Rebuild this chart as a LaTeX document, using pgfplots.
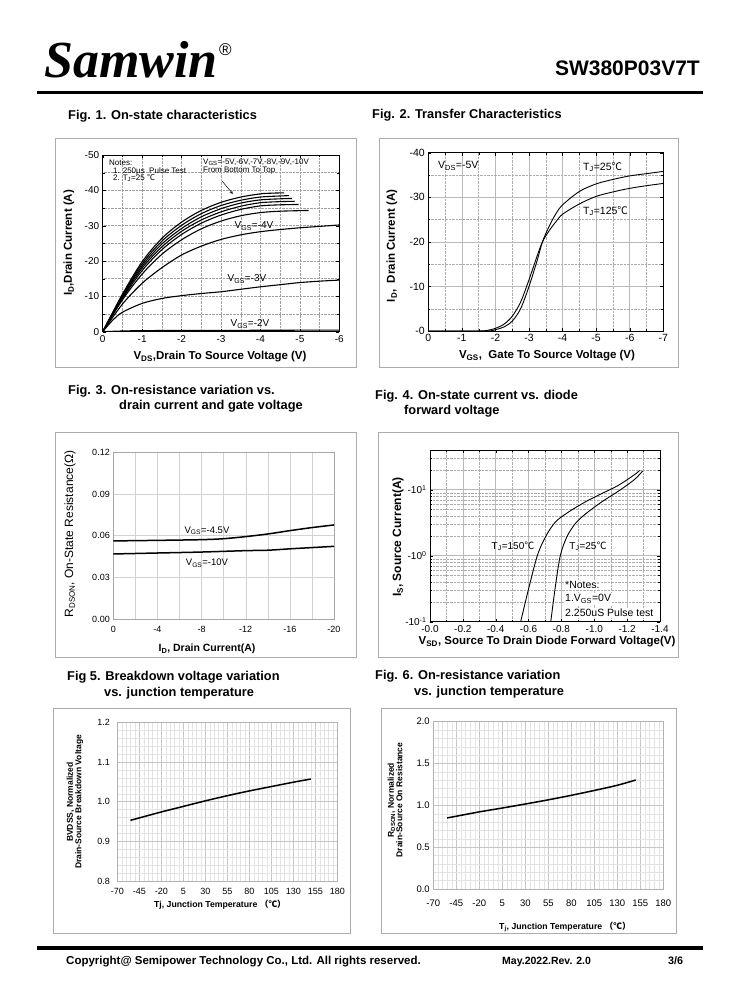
\documentclass[border=0pt]{standalone}
\usepackage{pgfplots}
\pgfplotsset{compat=1.18}
\usepackage{fontspec}
\setmainfont{Liberation Sans}
\newfontfamily\timesf{Liberation Serif}
\newfontfamily\cjk{Noto Sans CJK SC}
\newcommand{\dc}{{\cjk ℃}}
\newcommand{\fs}[1]{\fontsize{#1}{#1}\selectfont}
\tikzset{ca/.style={black,line width=1.1pt,smooth,mark=none},
 cb/.style={black,line width=0.9pt,smooth,mark=none},
 cc/.style={black,line width=1.5pt,smooth,mark=none}}
\begin{document}
\begin{tikzpicture}
\fill[white] (0,0) rectangle (738pt,1000pt);
\path[use as bounding box] (0,0) rectangle (738pt,1000pt);
% frames
\begin{scope}[x=1pt,y=-1pt,yshift=1000pt]
\draw[gray!65,line width=0.9pt] (55,138) rectangle (356,367);
\draw[gray!65,line width=0.9pt] (379,138) rectangle (678,367);
\draw[gray!65,line width=0.9pt] (55,432) rectangle (356,657);
\draw[gray!65,line width=0.9pt] (378,432) rectangle (678,657);
\draw[gray!65,line width=0.9pt] (53,708) rectangle (350,933);
\draw[gray!65,line width=0.9pt] (381,708) rectangle (676,933);
\end{scope}

%% Fig 1
\begin{axis}[at={(102.7pt,668.3pt)},anchor=south west,scale only axis,
 width=236.6pt,height=176.7pt,
 xmin=-6,xmax=0,ymin=-50,ymax=0,x dir=reverse,y dir=reverse,
 xtick={0,-1,-2,-3,-4,-5,-6}, xticklabels={0,-1,-2,-3,-4,-5,-6},
 ytick={0,-10,-20,-30,-40,-50}, yticklabels={0,-10,-20,-30,-40,-50},
 minor x tick num=1, minor y tick num=1,
 grid=both, major grid style={densely dotted,gray!75}, minor grid style={densely dotted,gray!75},
 tick label style={font=\fs{10}}, axis line style={black,line width=0.8pt},
 tick style={black}, major tick length=3pt, minor tick length=2pt,
]
\addplot[ca] coordinates {(0,0) (-0.5,-0.2) (-1,-0.3) (-2,-0.35) (-4,-0.4) (-6,-0.45)};
\addplot[ca] coordinates {(0,0) (-0.25,-3.2) (-0.5,-5.5) (-1,-8.0) (-1.5,-9.4) (-2,-10.2) (-2.5,-10.8) (-3,-11.3) (-3.5,-12.0) (-4,-12.7) (-4.5,-13.3) (-5,-13.9) (-5.5,-14.3) (-6,-14.6)};
\addplot[ca] coordinates {(0,0) (-0.5,-7.8) (-1,-13.7) (-1.5,-18.1) (-2,-21.7) (-2.5,-24.2) (-3,-26.1) (-3.5,-27.4) (-4,-28.3) (-4.5,-28.9) (-5,-29.4) (-5.5,-29.8) (-6,-30.2)};
\addplot[ca] coordinates {(0,0) (-0.5,-9.0) (-1,-16.3) (-1.5,-21.9) (-2,-26.0) (-2.5,-29.1) (-3,-31.3) (-3.5,-32.8) (-4,-33.7) (-4.5,-34.1) (-5.22,-34.3)};
\addplot[ca] coordinates {(0,0) (-0.5,-9.4) (-1,-17.3) (-1.5,-23.2) (-2,-27.5) (-2.5,-30.7) (-3,-33.0) (-3.5,-34.6) (-4,-35.6) (-4.5,-35.9) (-4.97,-36.0)};
\addplot[ca] coordinates {(0,0) (-0.5,-9.7) (-1,-18.0) (-1.5,-24.0) (-2,-28.4) (-2.5,-31.6) (-3,-33.9) (-3.5,-35.5) (-4,-36.5) (-4.5,-36.8) (-4.87,-36.9)};
\addplot[ca] coordinates {(0,0) (-0.5,-10.0) (-1,-18.6) (-1.5,-24.8) (-2,-29.2) (-2.5,-32.5) (-3,-34.8) (-3.5,-36.4) (-4,-37.3) (-4.5,-37.6) (-4.8,-37.7)};
\addplot[ca] coordinates {(0,0) (-0.5,-10.3) (-1,-19.2) (-1.5,-25.6) (-2,-30.1) (-2.5,-33.4) (-3,-35.7) (-3.5,-37.2) (-4,-38.1) (-4.5,-38.4) (-4.72,-38.5)};
\addplot[ca] coordinates {(0,0) (-0.5,-10.6) (-1,-19.8) (-1.5,-26.4) (-2,-31.0) (-2.5,-34.3) (-3,-36.6) (-3.5,-38.1) (-4,-39.0) (-4.3,-39.2) (-4.6,-39.3)};
\draw[-stealth,line width=0.5pt] (axis cs:-3.03,-42.6) -- (axis cs:-3.30,-39.0);
\end{axis}

%% Fig 2
\begin{axis}[at={(428.3pt,669pt)},anchor=south west,scale only axis,
 width=235pt,height=178.3pt,
 xmin=-7,xmax=0,ymin=-40,ymax=0,x dir=reverse,y dir=reverse,
 xtick={0,-1,-2,-3,-4,-5,-6,-7}, xticklabels={0,-1,-2,-3,-4,-5,-6,-7},
 ytick={0,-10,-20,-30,-40}, yticklabels={-0,-10,-20,-30,-40},
 minor x tick num=1, minor y tick num=1,
 grid=both, major grid style={gray!55,line width=0.5pt}, minor grid style={densely dotted,gray!65},
 tick label style={font=\fs{10.5}}, axis line style={black,line width=0.8pt},
 tick style={black}, major tick length=3pt, minor tick length=2pt,
]
\addplot[cb] coordinates {(0,0) (-1.5,0) (-1.8,-0.2) (-2,-0.6) (-2.25,-1.5) (-2.5,-3.3) (-2.75,-6.5) (-3,-11.5) (-3.25,-17) (-3.4,-20) (-3.6,-22.5) (-3.8,-24.5) (-4,-26.2) (-4.5,-28.5) (-5,-30.2) (-5.5,-31.2) (-6,-32) (-6.5,-32.6) (-7,-33.1)};
\addplot[cb] coordinates {(0,0) (-1.7,0) (-2,-0.3) (-2.25,-0.9) (-2.5,-2.2) (-2.75,-5) (-3,-10) (-3.25,-16) (-3.4,-20) (-3.6,-23.5) (-3.8,-26.3) (-4,-28.3) (-4.5,-31.3) (-5,-33) (-5.5,-34) (-6,-34.8) (-6.5,-35.3) (-7,-35.8)};
\end{axis}

%% Fig 3
\begin{axis}[at={(113.3pt,381pt)},anchor=south west,scale only axis,
 width=220.7pt,height=166.7pt,
 xmin=-20,xmax=0,x dir=reverse,ymin=0,ymax=0.12,
 xtick={0,-4,-8,-12,-16,-20}, xticklabels={0,-4,-8,-12,-16,-20}, minor x tick num=1,
 ytick={0,0.03,0.06,0.09,0.12}, yticklabels={0.00,0.03,0.06,0.09,0.12},
 grid=both, major grid style={gray!35}, minor grid style={gray!35},
 axis line style={gray!70}, major tick length=0pt, minor tick length=0pt,
 tick label style={font=\fs{9}}, xticklabel style={yshift=-4pt},
]
\addplot[cc] coordinates {(0,0.0562) (-4,0.0566) (-8,0.0571) (-10,0.0578) (-12,0.0593) (-14,0.0612) (-16,0.0636) (-18,0.0658) (-20,0.0677)};
\addplot[cc] coordinates {(0,0.0468) (-4,0.0475) (-8,0.0482) (-12,0.0492) (-14,0.0495) (-16,0.0505) (-18,0.0514) (-20,0.0523)};
\end{axis}

%% Fig 4
\begin{axis}[at={(430pt,378.3pt)},anchor=south west,scale only axis,
 width=230pt,height=171.7pt,
 xmin=-1.4,xmax=0,x dir=reverse,ymode=log,ymin=0.1,ymax=40,
 xtick={0,-0.2,-0.4,-0.6,-0.8,-1,-1.2,-1.4}, xticklabels={-0.0,-0.2,-0.4,-0.6,-0.8,-1.0,-1.2,-1.4},
 minor xtick={-0.1,-0.3,-0.5,-0.7,-0.9,-1.1,-1.3},
 ytick={0.1,1,10}, yticklabels={-10\textsuperscript{-1},-10\textsuperscript{0},-10\textsuperscript{1}},
 minor ytick={0.2,0.3,0.4,0.5,0.6,0.7,0.8,0.9,2,3,4,5,6,7,8,9,20,30},
 grid=both, major grid style={gray!55,line width=0.5pt}, minor grid style={densely dotted,gray!65},
 tick label style={font=\fs{10}}, axis line style={black,line width=0.8pt},
 tick style={black}, major tick length=3pt, minor tick length=2pt,
]
\addplot[cb] coordinates {(-0.552,0.1) (-0.598,0.30) (-0.653,1.0) (-0.703,1.93) (-0.763,3.24) (-0.843,4.59) (-0.944,6.51) (-1.044,8.71) (-1.145,11.6) (-1.245,16.9) (-1.275,19.6)};
\addplot[cb] coordinates {(-0.735,0.1) (-0.763,0.34) (-0.793,1.0) (-0.833,1.93) (-0.884,3.06) (-0.944,4.24) (-1.044,6.51) (-1.145,9.44) (-1.245,14.3) (-1.295,19.3)};
\end{axis}

%% Fig 5
\begin{axis}[at={(117.3pt,119pt)},anchor=south west,scale only axis,
 width=220pt,height=158.7pt,
 xmin=-70,xmax=180,ymin=0.8,ymax=1.2,
 xtick={-70,-45,-20,5,30,55,80,105,130,155,180}, xticklabels={-70,-45,-20,5,30,55,80,105,130,155,180},
 ytick={0.8,0.9,1,1.1,1.2}, yticklabels={0.8,0.9,1.0,1.1,1.2},
 minor x tick num=4, minor y tick num=4,
 grid=both, major grid style={gray!45}, minor grid style={gray!22},
 axis line style={gray!60}, major tick length=0pt, minor tick length=0pt,
 tick label style={font=\fs{9}}, xticklabel style={yshift=-4pt}, yticklabel style={xshift=-4pt},
]
\addplot[cc] coordinates {(-55,0.953) (-45,0.959) (-20,0.974) (5,0.988) (30,1.002) (55,1.015) (80,1.027) (105,1.038) (130,1.049) (150,1.057)};
\end{axis}

%% Fig 6
\begin{axis}[at={(433.3pt,111pt)},anchor=south west,scale only axis,
 width=230pt,height=167.3pt,
 xmin=-70,xmax=180,ymin=0,ymax=2,
 xtick={-70,-45,-20,5,30,55,80,105,130,155,180}, xticklabels={-70,-45,-20,5,30,55,80,105,130,155,180},
 ytick={0,0.5,1,1.5,2}, yticklabels={0.0,0.5,1.0,1.5,2.0},
 minor x tick num=4, minor y tick num=4,
 grid=both, major grid style={gray!45}, minor grid style={gray!22},
 axis line style={gray!60}, major tick length=0pt, minor tick length=0pt,
 tick label style={font=\fs{9.5}}, xticklabel style={yshift=-7pt},
]
\addplot[cc] coordinates {(-55,0.85) (-45,0.87) (-20,0.922) (5,0.968) (30,1.016) (55,1.066) (80,1.12) (105,1.178) (130,1.24) (150,1.303)};
\end{axis}

\begin{scope}[x=1pt,y=-1pt,yshift=1000pt]
% header
\node[anchor=base west,inner sep=0,font=\timesf\bfseries\itshape\fs{52}] at (44,78) {Samwin};
\node[anchor=north west,inner sep=0,font=\fs{17}] at (219,43) {®};
\node[anchor=base east,inner sep=0,font=\bfseries\fs{21}] at (700,76) {SW380P03V7T};
\draw[line width=3pt] (37,93) -- (703,93);
% titles
\begin{scope}[every node/.style={anchor=west,inner sep=0,font=\bfseries\fs{12.8}}]
\node at (68,116) {Fig. 1. On-state characteristics};
\node at (372,115) {Fig. 2. Transfer Characteristics};
\node at (68,391) {Fig. 3. On-resistance variation vs.};
\node at (119,406) {drain current and gate voltage};
\node at (375,396) {Fig. 4. On-state current vs. diode};
\node at (404,411) {forward voltage};
\node at (67,677) {Fig 5. Breakdown voltage variation};
\node at (104,693) {vs. junction temperature};
\node at (375,676) {Fig. 6. On-resistance variation};
\node at (414,692) {vs. junction temperature};
\end{scope}
% Fig 1 texts
\node[rotate=90,inner sep=0,font=\bfseries\fs{11.5}] at (69,243) {I\textsubscript{D},Drain Current (A)};
\node[inner sep=0,font=\bfseries\fs{11.5}] at (220,357) {V\textsubscript{DS},Drain To Source Voltage (V)};
\begin{scope}[every node/.style={anchor=west,inner sep=0,font=\fs{8}}]
\node at (109,163) {Notes:};
\node at (113,171) {1. 250µs\ \ Pulse Test};
\node at (113,178) {2. T\textsubscript{J}=25 \dc};
\node at (203,162) {V\textsubscript{GS}=-5V,-6V,-7V,-8V,-9V,-10V};
\node at (203,171) {From Bottom To Top};
\end{scope}
\begin{scope}[every node/.style={inner sep=0,font=\fs{10}}]
\node at (254,226) {V\textsubscript{GS}=-4V};
\node at (247,279) {V\textsubscript{GS}=-3V};
\node at (250,324) {V\textsubscript{GS}=-2V};
\end{scope}
% Fig 2 texts
\node[rotate=90,inner sep=0,font=\bfseries\fs{11.5}] at (392,246) {I\textsubscript{D},\ \ Drain Current (A)};
\node[inner sep=0,font=\bfseries\fs{11.5}] at (547,356) {V\textsubscript{GS},\ \ Gate To Source Voltage (V)};
\begin{scope}[every node/.style={anchor=west,inner sep=0,font=\fs{10.5}}]
\node at (438,166) {V\textsubscript{DS}=-5V};
\node at (583,167) {T\textsubscript{J}=25\dc};
\node at (583,211) {T\textsubscript{J}=125\dc};
\end{scope}
% Fig 3 texts
\node[rotate=90,inner sep=0,font=\fs{12}] at (70,534) {R\textsubscript{DSON}, On-State Resistance(Ω)};
\node[inner sep=0,font=\bfseries\fs{10.5}] at (207,649) {I\textsubscript{D}, Drain Current(A)};
\node[inner sep=0,font=\fs{9.5}] at (207,531) {V\textsubscript{GS}=-4.5V};
\node[inner sep=0,font=\fs{9.5}] at (207,563) {V\textsubscript{GS}=-10V};
% Fig 4 texts
\node[rotate=90,inner sep=0,font=\bfseries\fs{12}] at (398,537) {I\textsubscript{S}, Source Current(A)};
\node[inner sep=0,font=\bfseries\fs{11.5}] at (547,642) {V\textsubscript{SD}, Source To Drain Diode Forward Voltage(V)};
\node[inner sep=0,font=\fs{10}] at (513,546) {T\textsubscript{J}=150\dc};
\node[inner sep=0,font=\fs{10}] at (588,546) {T\textsubscript{J}=25\dc};
\begin{scope}[every node/.style={anchor=west,inner sep=1pt,fill=white,font=\fs{10.5}}]
\node at (564,585) {*Notes:};
\node at (564,599) {1.V\textsubscript{GS}=0V};
\node at (564,613) {2.250uS Pulse test};
\end{scope}
% Fig 5 texts
\node[rotate=90,inner sep=0,align=center,font=\bfseries\fs{8.5}] at (75,802) {BVDSS, Normalized\\Drain-Source Breakdown Voltage};
\node[inner sep=0,font=\bfseries\fs{8.7}] at (220,905) {Tj, Junction Temperature {\cjk （℃）}};
% Fig 6 texts
\node[rotate=90,inner sep=0,align=center,font=\bfseries\fs{8.5}] at (395,800) {R\textsubscript{DSON}, Normalized\\Drain-Source On Resistance};
\node[inner sep=0,font=\bfseries\fs{8.7}] at (565,927) {T\textsubscript{j}, Junction Temperature {\cjk （℃）}};
% footer
\draw[line width=4pt] (37,948) -- (703,948);
\node[anchor=base west,inner sep=0,font=\bfseries\fs{11.5}] at (66,965) {Copyright@ Semipower Technology Co., Ltd. All rights reserved.};
\node[anchor=base west,inner sep=0,font=\bfseries\fs{10.5}] at (502,965) {May.2022.Rev. 2.0};
\node[anchor=base west,inner sep=0,font=\bfseries\fs{10.8}] at (668,965) {3/6};
\end{scope}
\end{tikzpicture}
\end{document}
